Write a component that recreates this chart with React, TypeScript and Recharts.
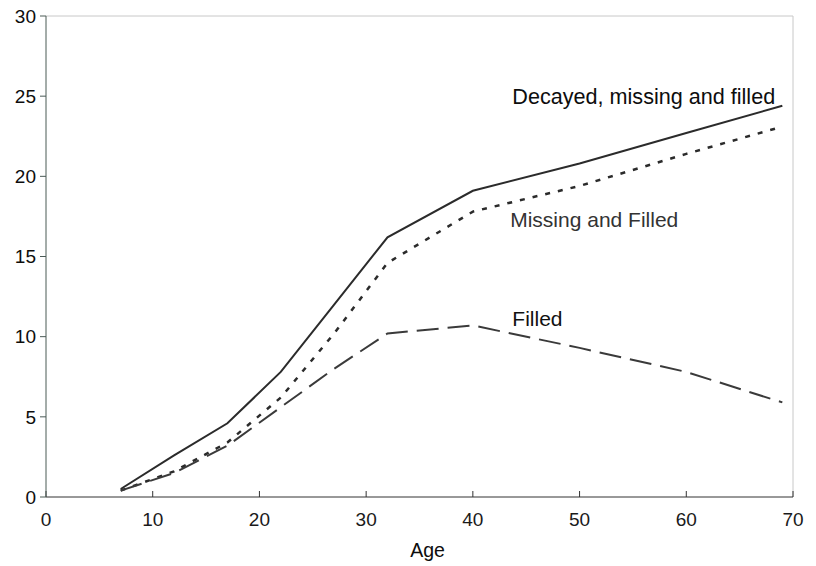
import React from "react";
import {
  LineChart,
  Line,
  XAxis,
  YAxis,
  ReferenceLine,
  ReferenceDot,
  Label,
} from "recharts";

const ages = [7, 12, 17, 22, 27, 32, 40, 50, 60, 69];
const decayedMissingFilled = [0.5, 2.6, 4.6, 7.8, 12.0, 16.2, 19.1, 20.8, 22.7, 24.4];
const missingFilled = [0.4, 1.6, 3.4, 6.2, 10.2, 14.6, 17.8, 19.4, 21.4, 23.1];
const filled = [0.4, 1.5, 3.2, 5.6, 8.0, 10.2, 10.7, 9.3, 7.8, 5.9];

const xTicks = [0, 10, 20, 30, 40, 50, 60, 70];
const yTicks = [0, 5, 10, 15, 20, 25, 30];

const annotations = [
  { age: 43.7, value: 25.0, text: "Decayed, missing and filled", color: "#0d0d0d", size: 21.6 },
  { age: 43.5, value: 17.3, text: "Missing and Filled", color: "#333", size: 21 },
  { age: 43.7, value: 11.1, text: "Filled", color: "#111", size: 21 },
];

const data = ages.map((age, i) => ({
  age,
  dmf: decayedMissingFilled[i],
  mf: missingFilled[i],
  f: filled[i],
}));

const font = "Liberation Sans, Arial, sans-serif";

export default function App() {
  return (
    <div style={{ position: "absolute", left: 0, top: 0, background: "#fff" }}>
      <LineChart
        width={816}
        height={566}
        data={data}
        margin={{ top: 16, right: 23, bottom: 39, left: 6 }}
        style={{ fontFamily: font }}
      >
        <XAxis
          dataKey="age"
          type="number"
          domain={[0, 70]}
          ticks={xTicks}
          interval={0}
          height={30}
          stroke="#333"
          tickSize={-6}
          tickMargin={22}
          tick={{ fill: "#1a1a1a", fontSize: 19 }}
        >
          <Label
            value="Age"
            position="bottom"
            offset={16}
            dx={8}
            style={{ fill: "#0d0d0d", fontSize: 19.5 }}
          />
        </XAxis>
        <YAxis
          type="number"
          domain={[0, 30]}
          ticks={yTicks}
          interval={0}
          width={40}
          stroke="#4a5a55"
          tickSize={6}
          tickMargin={4}
          tick={{ fill: "#0d0d0d", fontSize: 19 }}
        />
        <ReferenceLine y={30} stroke="#c8c8c8" />
        <ReferenceLine x={70} stroke="#c8c8c8" />
        <Line
          dataKey="dmf"
          stroke="#2b2b2b"
          strokeWidth={2}
          dot={false}
          type="linear"
          isAnimationActive={false}
        />
        <Line
          dataKey="mf"
          stroke="#2b2b2b"
          strokeWidth={2.5}
          strokeDasharray="5 8"
          dot={false}
          type="linear"
          isAnimationActive={false}
        />
        <Line
          dataKey="f"
          stroke="#3a3a3a"
          strokeWidth={2}
          strokeDasharray="22 9"
          dot={false}
          type="linear"
          isAnimationActive={false}
        />
        {annotations.map((a) => (
          <ReferenceDot
            key={a.text}
            x={a.age}
            y={a.value}
            r={0}
            fill="none"
            stroke="none"
          >
            <Label
              value={a.text}
              position="right"
              offset={0}
              style={{ fill: a.color, fontSize: a.size }}
            />
          </ReferenceDot>
        ))}
      </LineChart>
    </div>
  );
}
